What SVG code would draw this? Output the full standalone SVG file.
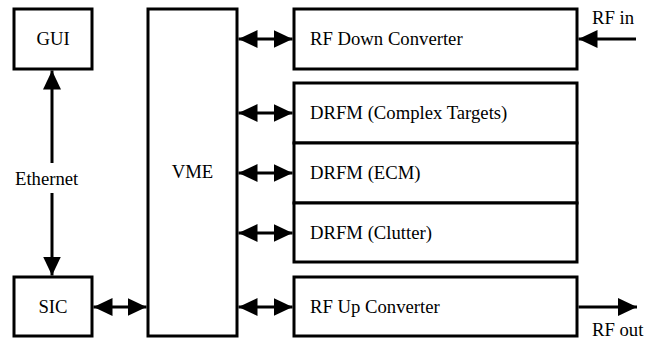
<svg xmlns="http://www.w3.org/2000/svg" width="656" height="340" viewBox="0 0 656 340">
<style>
.box{fill:#fff;stroke:#000;stroke-width:3}
.t{font-family:'Liberation Serif','DejaVu Serif',serif;font-size:18.7px;fill:#000}
.c{text-anchor:middle}
.ln{stroke:#000;stroke-width:3;fill:none}
.one{marker-end:url(#ah)}
.two{marker-end:url(#ah);marker-start:url(#ah)}
</style>
<defs>
<marker id="ah" markerUnits="userSpaceOnUse" markerWidth="20" markerHeight="20" viewBox="0 0 20 20" refX="19" refY="10" orient="auto-start-reverse">
<path d="M0,1 L19,10 L0,19 z" fill="#000"/>
</marker>
</defs>
<rect width="656" height="340" fill="#fff"/>
<g id="gui"><rect class="box" x="14" y="9" width="78" height="60"/><text class="t c" x="53" y="45">GUI</text></g>
<g id="sic"><rect class="box" x="14" y="277" width="78" height="59"/><text class="t c" x="53" y="313">SIC</text></g>
<g id="vme"><rect class="box" x="148" y="9" width="89" height="327"/><text class="t c" x="192.5" y="178">VME</text></g>
<g id="rfdown"><rect class="box" x="294" y="9" width="283" height="60"/><text class="t" x="310" y="45">RF Down Converter</text></g>
<g id="drfm-ct"><rect class="box" x="294" y="83" width="283" height="60"/><text class="t" x="310" y="119">DRFM (Complex Targets)</text></g>
<g id="drfm-ecm"><rect class="box" x="294" y="143" width="283" height="60"/><text class="t" x="310" y="179">DRFM (ECM)</text></g>
<g id="drfm-cl"><rect class="box" x="294" y="203" width="283" height="59"/><text class="t" x="310" y="239">DRFM (Clutter)</text></g>
<g id="rfup"><rect class="box" x="294" y="277" width="283" height="59"/><text class="t" x="310" y="313">RF Up Converter</text></g>
<g id="connectors">
<line class="ln one" x1="52" y1="163" x2="52" y2="70.5"/>
<line class="ln one" x1="52" y1="193" x2="52" y2="275.5"/>
<text class="t" x="15" y="185">Ethernet</text>
<line class="ln two" x1="93.5" y1="307" x2="146.5" y2="307"/>
<line class="ln two" x1="238.5" y1="39" x2="292.5" y2="39"/>
<line class="ln two" x1="238.5" y1="113" x2="292.5" y2="113"/>
<line class="ln two" x1="238.5" y1="173" x2="292.5" y2="173"/>
<line class="ln two" x1="238.5" y1="233" x2="292.5" y2="233"/>
<line class="ln two" x1="238.5" y1="307" x2="292.5" y2="307"/>
<line class="ln one" x1="636" y1="39" x2="578.5" y2="39"/>
<text class="t" x="592" y="24">RF in</text>
<line class="ln one" x1="578.5" y1="307" x2="637" y2="307"/>
<text class="t" x="592" y="336">RF out</text>
</g>
</svg>
